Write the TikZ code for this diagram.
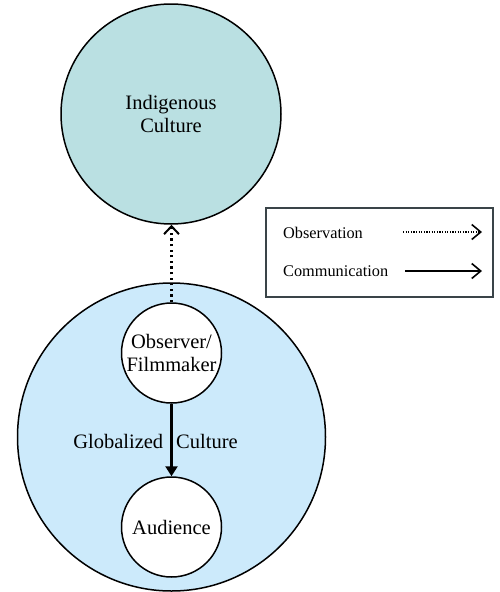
\documentclass[tikz,border=0pt]{standalone}
\usepackage{fontspec}
\setmainfont{Liberation Serif}
\usetikzlibrary{arrows.meta}

\definecolor{indigfill}{HTML}{BAE0E2}
\definecolor{globalfill}{HTML}{CCEAFB}
\definecolor{boxline}{HTML}{3A4448}

\tikzset{
  culture/.style={circle, draw=black, line width=1.5pt, inner sep=0pt,
    align=center, font=\fontsize{20.5}{23.5}\selectfont},
  actor/.style={culture, fill=white, minimum size=100pt},
  observe/.style={line width=2.4pt, dash pattern=on 2.2pt off 3.4pt,
    -{Straight Barb[length=8pt,width=15pt,line width=2pt]}},
  communicate/.style={line width=2.4pt, -{Triangle[length=10pt,width=12pt]}},
  keyobserve/.style={line width=1.3pt, dash pattern=on 1.2pt off 1.4pt,
    -{Straight Barb[length=9pt,width=15pt,line width=1.6pt]}},
  keycommunicate/.style={line width=1.6pt,
    -{Straight Barb[length=9pt,width=15pt,line width=1.6pt]}},
  keytext/.style={anchor=west, inner sep=0pt, font=\fontsize{16.3}{19}\selectfont},
}

\begin{document}
\begin{tikzpicture}[x=1pt, y=-1pt]
  \useasboundingbox (0,0) rectangle (499,592);

  % the two cultures
  \node[culture, fill=indigfill, minimum size=220pt] (indig) at (171,114)
    {Indigenous\\Culture};
  \node[culture, fill=globalfill, minimum size=308pt] (global) at (171.5,437) {};

  % people inside the globalized culture
  \node[actor] (observer) at (171.5,353) {Observer/\\Filmmaker};
  \node[actor] (audience) at (171.5,527) {Audience};

  \node[font=\fontsize{20.5}{23.5}\selectfont, inner sep=0pt] (globlabel)
    at (155.5,441) {Globalized\hspace{13pt}Culture};

  % connectors
  \draw[observe] (observer.north) -- (observer.north |- indig.south);
  \draw[communicate] (observer.south) -- (audience.north);

  % legend
  \node[draw=boxline, line width=1.4pt, minimum width=227pt, minimum height=89pt,
    inner sep=0pt] (legend) at (379.5,252.5) {};
  \node[keytext] (keyobs) at (283,232.5) {Observation};
  \node[keytext] (keycom) at (283,271.5) {Communication};
  \coordinate (obsfrom) at (403,232);
  \coordinate (obsto) at (482,232);
  \coordinate (comfrom) at (405,271);
  \coordinate (comto) at (482,271);
  \draw[keyobserve] (obsfrom) -- (obsto);
  \draw[keycommunicate] (comfrom) -- (comto);
\end{tikzpicture}
\end{document}
